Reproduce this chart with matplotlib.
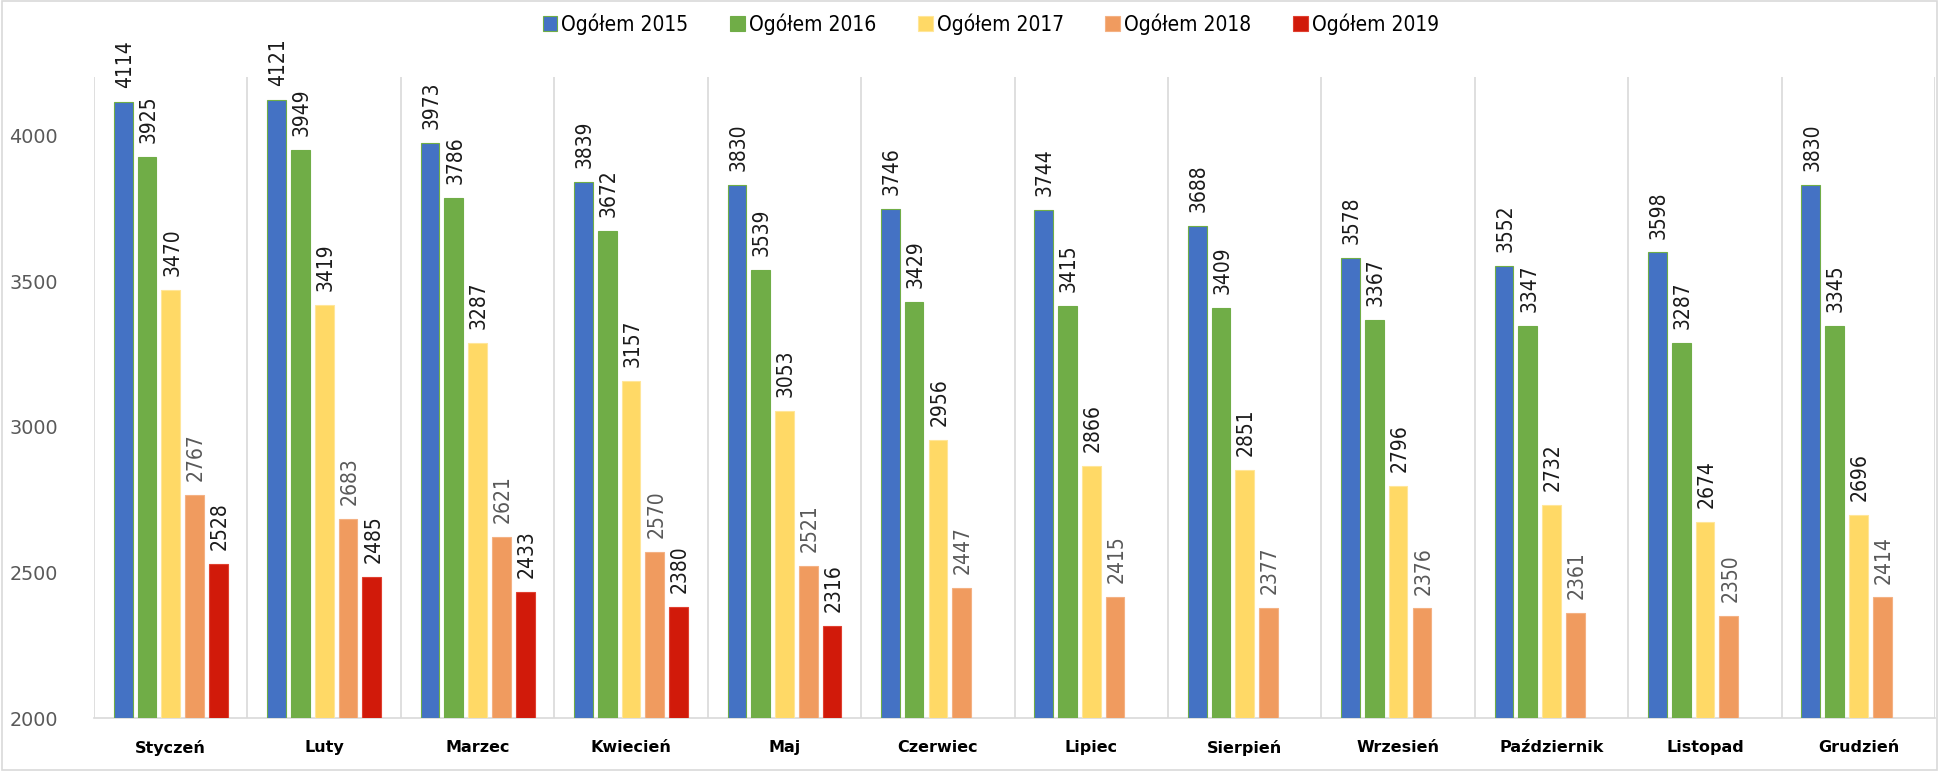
import matplotlib
matplotlib.use("Agg")
import matplotlib.pyplot as plt
from matplotlib.patches import Rectangle
import numpy as np

months = ["Styczeń", "Luty", "Marzec", "Kwiecień", "Maj", "Czerwiec", "Lipiec",
          "Sierpień", "Wrzesień", "Październik", "Listopad", "Grudzień"]
series_names = ["Ogółem 2015", "Ogółem 2016", "Ogółem 2017", "Ogółem 2018", "Ogółem 2019"]
v2015 = [4114, 4121, 3973, 3839, 3830, 3746, 3744, 3688, 3578, 3552, 3598, 3830]
v2016 = [3925, 3949, 3786, 3672, 3539, 3429, 3415, 3409, 3367, 3347, 3287, 3345]
v2017 = [3470, 3419, 3287, 3157, 3053, 2956, 2866, 2851, 2796, 2732, 2674, 2696]
v2018 = [2767, 2683, 2621, 2570, 2521, 2447, 2415, 2377, 2376, 2361, 2350, 2414]
v2019 = [2528, 2485, 2433, 2380, 2316]
yticks = [2000, 2500, 3000, 3500, 4000]

series = [v2015, v2016, v2017, v2018, v2019]
colors = ["#4472C4", "#70AD47", "#FFD966", "#F09B5F", "#D11A0A"]
edges = ["#70AD47", "#70AD47", "#FFE699", "#F4B183", "#E04030"]
label_colors = ["#1a1a1a", "#1a1a1a", "#1a1a1a", "#595959", "#1a1a1a"]

fig = plt.figure(figsize=(19.39, 7.71), dpi=100)
ax = fig.add_axes([0.0485, 0.0687, 0.9495, 0.8313])

x = np.arange(len(months))
width = 0.122
pitch = 0.155
handles = []
for i, (vals, name) in enumerate(zip(series, series_names)):
    xs = x[:len(vals)] + (i - 2) * pitch
    bars = ax.bar(xs, np.array(vals) - 2000, width=width, bottom=2000,
                  color=colors[i], edgecolor=edges[i], linewidth=0.8,
                  label=name, zorder=3)
    handles.append(bars)
    for xi, v in zip(xs, vals):
        ax.annotate(str(v), (xi, v), xytext=(1, 10), textcoords="offset points",
                    rotation=90, ha="center", va="bottom", fontsize=15,
                    fontstretch="condensed", color=label_colors[i],
                    annotation_clip=False)

ax.set_xlim(-0.5, len(months) - 0.5)
ax.set_ylim(2000, 4200)
ax.set_yticks(yticks)
ax.set_yticklabels([str(t) for t in yticks], color="#595959", fontsize=13.8)
ax.set_xticks(x)
ax.set_xticklabels(months, fontsize=11.5, fontweight="bold", color="#000000")
ax.tick_params(axis="both", length=0)
ax.tick_params(axis="y", pad=26)
ax.tick_params(axis="x", pad=16)
for s in ["top", "right", "left"]:
    ax.spines[s].set_visible(False)
ax.spines["bottom"].set_color("#D9D9D9")
ax.spines["bottom"].set_linewidth(1.2)
for k in range(len(months) + 1):
    ax.axvline(k - 0.5, color="#D9D9D9", linewidth=1.2, zorder=1)

fig.legend(handles=handles, loc="center", bbox_to_anchor=(0.511, 0.969), ncol=5,
           frameon=False, handlelength=0.7, handleheight=0.7,
           handletextpad=0.2, columnspacing=2.0,
           prop={"size": 15, "stretch": "condensed"})

fig.add_artist(Rectangle((0.001, 0.001), 0.998, 0.998, transform=fig.transFigure,
                         fill=False, edgecolor="#D9D9D9", linewidth=1.2))

fig.savefig("out.png", dpi=100, facecolor="white")
